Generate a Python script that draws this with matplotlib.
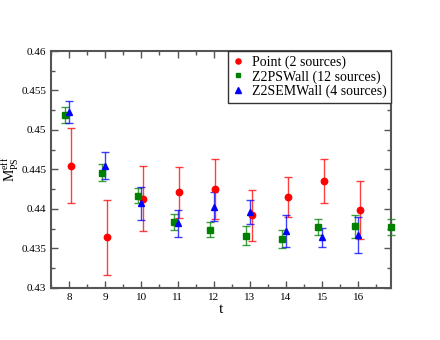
import matplotlib
matplotlib.use("Agg")
import matplotlib.pyplot as plt
from matplotlib.ticker import MultipleLocator

plt.rcParams["font.family"] = ["Liberation Serif", "DejaVu Serif"]
plt.rcParams["mathtext.fontset"] = "custom"
plt.rcParams["mathtext.rm"] = "Liberation Serif"

# ---------- data ----------
t_point = [8, 9, 10, 11, 12, 13, 14, 15, 16]
m_point = [0.4455, 0.4364, 0.4413, 0.4421, 0.4425, 0.4392, 0.4415, 0.4435, 0.4399]
e_point = [0.0047, 0.0047, 0.0041, 0.0032, 0.0038, 0.0032, 0.0025, 0.0028, 0.0037]

t_ps = [8, 9, 10, 11, 12, 13, 14, 15, 16, 17]
m_ps = [0.4519, 0.4446, 0.4417, 0.4384, 0.4374, 0.4366, 0.4362, 0.4377, 0.4378, 0.4377]
e_ps = [0.0010, 0.0011, 0.0010, 0.0010, 0.0010, 0.0012, 0.0012, 0.0010, 0.0015, 0.0010]

t_sem = [8, 9, 10, 11, 12, 13, 14, 15, 16]
m_sem = [0.4523, 0.4455, 0.4407, 0.4382, 0.4403, 0.4396, 0.4372, 0.4364, 0.4367]
e_sem = [0.0014, 0.0017, 0.0021, 0.0017, 0.0018, 0.0015, 0.0020, 0.0012, 0.0023]

series = [
    (t_point, m_point, e_point, 0.05, "red", "o", 4.6, "Point (2 sources)"),
    (t_ps, m_ps, e_ps, -0.1, "green", "s", 4.0, "Z2PSWall (12 sources)"),
    (t_sem, m_sem, e_sem, 0.0, "blue", "^", 5.0, "Z2SEMWall (4 sources)"),
]

fig = plt.figure(figsize=(4.4, 3.4), dpi=100)
ax = fig.add_axes([0.116, 0.153, 0.772, 0.697])

for t, m, e, shift, col, mk, ms, lab in series:
    x = [v + shift for v in t]
    ax.errorbar(x, m, yerr=e, fmt="none", ecolor=col, elinewidth=1.0,
                capsize=3.0, capthick=1.0, alpha=0.75, clip_on=False)
    ax.plot(x, m, linestyle="none", marker=mk, color=col, markersize=ms,
            label=lab, clip_on=False, zorder=3)

ax.set_xlim(7.5, 16.9)
ax.set_ylim(0.43, 0.46)
ax.xaxis.set_major_locator(MultipleLocator(1))
ax.xaxis.set_minor_locator(MultipleLocator(0.5))
ax.yaxis.set_major_locator(MultipleLocator(0.005))
ax.yaxis.set_minor_locator(MultipleLocator(0.0025))
ax.yaxis.set_major_formatter(plt.FuncFormatter(lambda v, p: f"{v:g}"))
ax.tick_params(which="both", direction="in", top=True, right=True,
               color="#555555", labelsize=8)
ax.tick_params(which="major", length=5, width=1)
ax.tick_params(which="minor", length=3, width=1)
for s in ax.spines.values():
    s.set_color("#555555")
    s.set_linewidth(1.5)

ax.set_xlabel("t", fontsize=11, labelpad=1)
ax.set_ylabel(r"$\mathrm{M}_{\mathrm{PS}}^{\mathrm{eff}}$", fontsize=10)
ax.yaxis.set_label_coords(-0.088, 0.5)

leg = ax.legend(loc="upper right", numpoints=1, fontsize=10, fancybox=False,
                borderaxespad=0, handlelength=0.8, handletextpad=0.6,
                labelspacing=0.1, borderpad=0.3, framealpha=1, markerscale=0.8)
leg.get_frame().set_edgecolor("#333333")
leg.get_frame().set_linewidth(1.0)

fig.savefig("out.png", dpi=100)
